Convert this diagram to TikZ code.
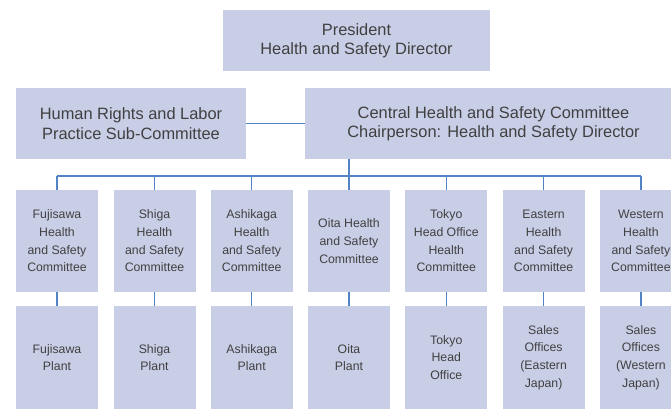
\documentclass[tikz,border=0pt]{standalone}
\usepackage{fontspec}
\setmainfont{Liberation Sans}
\definecolor{boxc}{HTML}{C9CEE7}
\definecolor{linec}{HTML}{5283C4}
\definecolor{txtc}{HTML}{404040}
\begin{document}
\begin{tikzpicture}[x=1pt,y=-1pt,
  orgbox/.style={fill=boxc, draw=none, inner sep=0pt, text=txtc, align=center},
  bigbox/.style={orgbox, font=\fontsize{16.4}{19.3}\selectfont},
  smallbox/.style={orgbox, font=\fontsize{12.3}{17.7}\selectfont, minimum width=82pt},
  conn/.style={draw=linec, line width=1.2pt}]
\path[use as bounding box, clip] (0,0) rectangle (671,408);
\node[bigbox, minimum width=267pt, minimum height=61pt] (pres) at (356.5,40.5) {President\\Health and Safety Director};
\node[bigbox, minimum width=230pt, minimum height=71pt] (hr) at (131,123.5) {Human Rights and Labor\\Practice Sub-Committee};
\node[bigbox, minimum width=377pt, minimum height=71pt] (central) at (493.5,123.5) {Central Health and Safety Committee\\Chairperson: Health and Safety Director};
\node[smallbox, minimum height=102pt] (c1) at (57,241) {Fujisawa\\Health\\and Safety\\Committee};
\node[smallbox, minimum height=102pt] (c2) at (154.5,241) {Shiga\\Health\\and Safety\\Committee};
\node[smallbox, minimum height=102pt] (c3) at (251.7,241) {Ashikaga\\Health\\and Safety\\Committee};
\node[smallbox, minimum height=102pt] (c4) at (349,241) {Oita Health\\and Safety\\Committee};
\node[smallbox, minimum height=102pt] (c5) at (446.3,241) {Tokyo\\Head Office\\Health\\Committee};
\node[smallbox, minimum height=102pt] (c6) at (543.6,241) {Eastern\\Health\\and Safety\\Committee};
\node[smallbox, minimum height=102pt] (c7) at (640.9,241) {Western\\Health\\and Safety\\Committee};
\node[smallbox, minimum height=103pt] (p1) at (57,357.5) {Fujisawa\\Plant};
\node[smallbox, minimum height=103pt] (p2) at (154.5,357.5) {Shiga\\Plant};
\node[smallbox, minimum height=103pt] (p3) at (251.7,357.5) {Ashikaga\\Plant};
\node[smallbox, minimum height=103pt] (p4) at (349,357.5) {Oita\\Plant};
\node[smallbox, minimum height=103pt] (p5) at (446.3,357.5) {Tokyo\\Head\\Office};
\node[smallbox, minimum height=103pt] (p6) at (543.6,357.5) {Sales\\Offices\\(Eastern\\Japan)};
\node[smallbox, minimum height=103pt] (p7) at (640.9,357.5) {Sales\\Offices\\(Western\\Japan)};
\coordinate (busy) at (0,176);
\draw[conn] (hr.east) -- (central.west);
\draw[conn] (c4.north |- central.south) -- (c4.north |- busy);
\draw[conn] (c1.north |- busy) -- (c7.north |- busy);
\foreach \i in {1,...,7} {
  \draw[conn] (c\i.north |- busy) -- (c\i.north);
  \draw[conn] (c\i.south) -- (p\i.north);
}
\end{tikzpicture}
\end{document}
